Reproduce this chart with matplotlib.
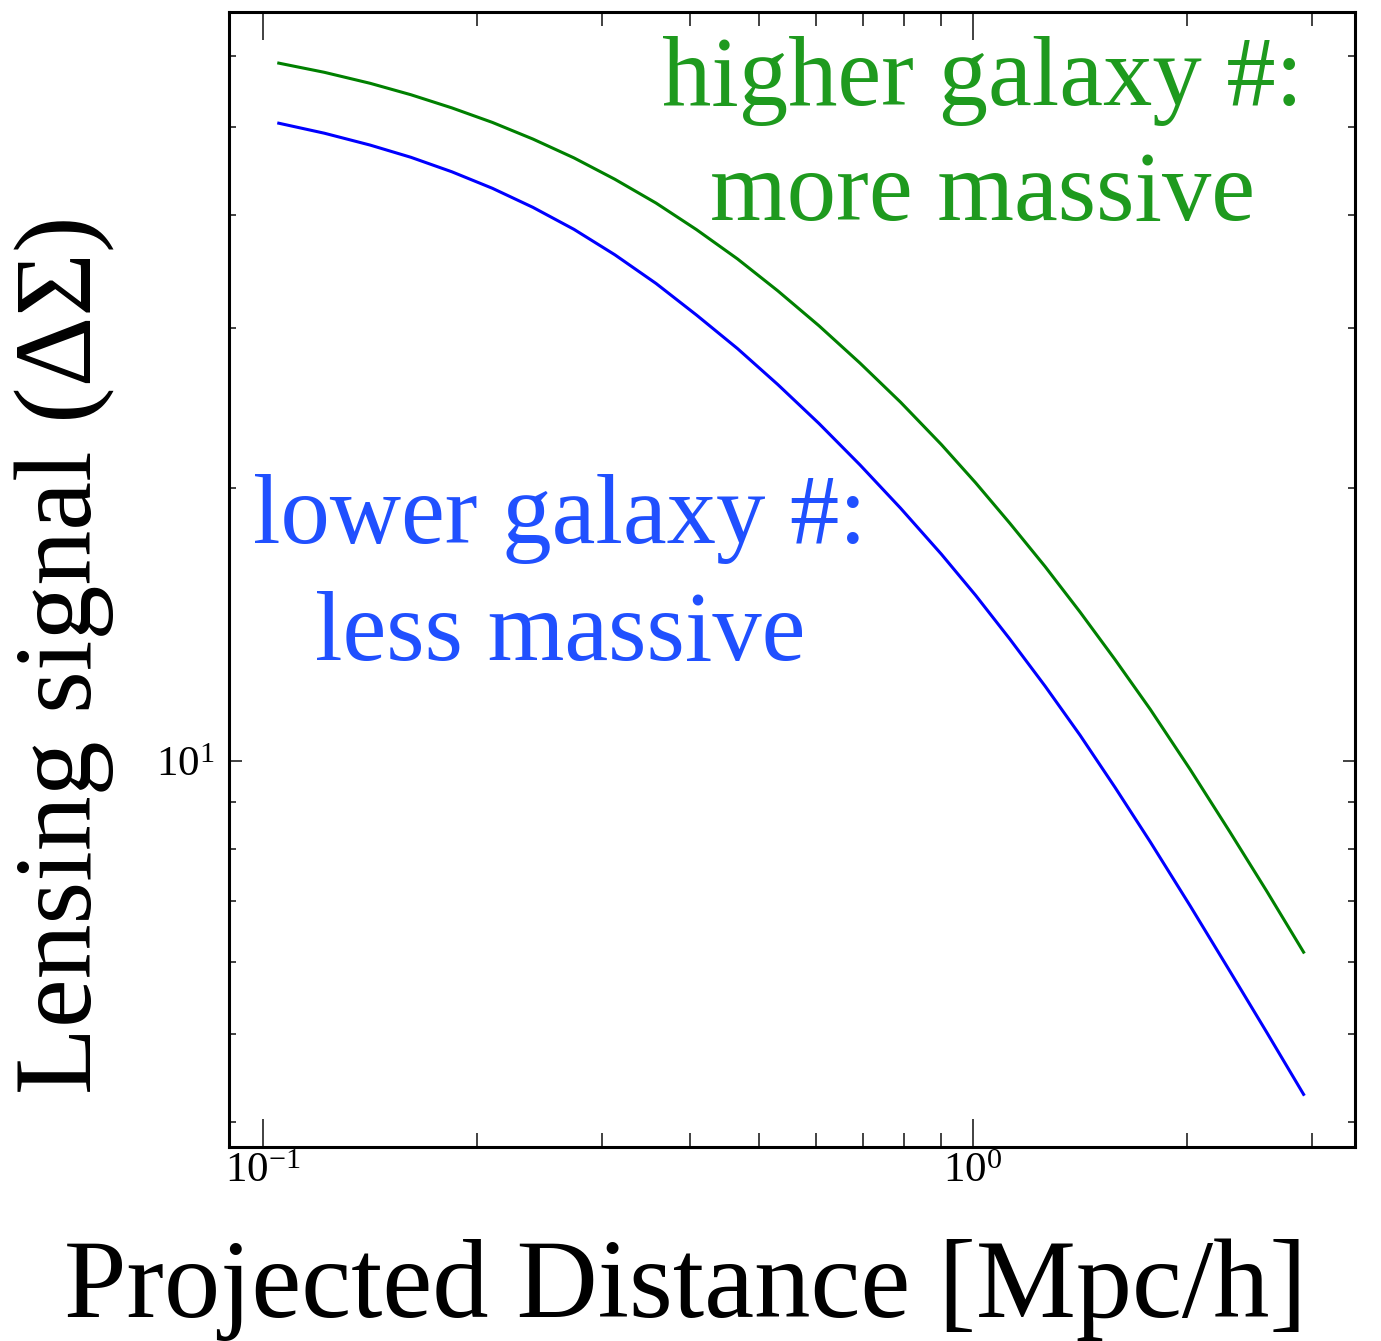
import matplotlib
matplotlib.use("Agg")
import matplotlib.pyplot as plt
from matplotlib.ticker import LogLocator, NullFormatter

plt.rcParams['font.family'] = ['Liberation Serif', 'DejaVu Serif']
plt.rcParams['mathtext.fontset'] = 'stix'

# Projected radius [Mpc/h] and Delta Sigma for the two samples
r_mpc = [0.1053, 0.1221, 0.1416, 0.1616, 0.1845, 0.2105, 0.240, 0.2742,
         0.313, 0.3577, 0.408, 0.4659, 0.531, 0.6068, 0.693, 0.7905,
         0.902, 1.0081, 1.127, 1.2631, 1.415, 1.5849, 1.776, 2.0212,
         2.30, 2.5908, 2.92]
ds_high = [58.85, 57.49, 55.91, 54.31, 52.53, 50.62, 48.53, 46.26,
           43.82, 41.25, 38.55, 35.79, 33.00, 30.20, 27.47, 24.87,
           22.34, 20.27, 18.28, 16.38, 14.59, 12.93, 11.40, 9.786,
           8.345, 7.183, 6.151]
ds_low = [50.52, 49.25, 47.79, 46.33, 44.66, 42.82, 40.80, 38.58,
          36.17, 33.63, 31.03, 28.50, 26.01, 23.56, 21.21, 19.00,
          16.91, 15.23, 13.62, 12.09, 10.67, 9.345, 8.141, 6.920,
          5.858, 5.018, 4.286]

fig = plt.figure(figsize=(13.81, 13.41), dpi=100)
ax = fig.add_axes([0.1658, 0.1447, 0.8154, 0.8463])

ax.plot(r_mpc, ds_high, color=(0, 0.5, 0), linewidth=2.2)
ax.plot(r_mpc, ds_low, color=(0, 0, 1), linewidth=2.2)

ax.set_xscale('log')
ax.set_yscale('log')
ax.set_xlim(0.0896, 3.45)
ax.set_ylim(3.75, 67)

ax.yaxis.set_major_locator(LogLocator(base=10))
ax.yaxis.set_minor_locator(LogLocator(base=10, subs=range(2, 10)))
ax.yaxis.set_minor_formatter(NullFormatter())
ax.xaxis.set_minor_formatter(NullFormatter())

ax.tick_params(which='both', direction='in', top=True, right=True,
               labelsize=31, color='#333333', width=1.3)
ax.tick_params(axis='x', which='major', length=20, pad=4)
ax.tick_params(axis='x', which='minor', length=10)
ax.tick_params(axis='y', which='major', length=9, pad=10)
ax.tick_params(axis='y', which='minor', length=5)
for sp in ax.spines.values():
    sp.set_linewidth(2.2)

# annotations
ax.text(0.6696, 0.918, 'higher galaxy #:', transform=ax.transAxes,
        ha='center', va='baseline', fontsize=71, color='#1e9a1e')
ax.text(0.6696, 0.8167, 'more massive', transform=ax.transAxes,
        ha='center', va='baseline', fontsize=71, color='#1e9a1e')
ax.text(0.294, 0.532, 'lower galaxy #:', transform=ax.transAxes,
        ha='center', va='baseline', fontsize=71, color='#2050ff')
ax.text(0.294, 0.429, 'less massive', transform=ax.transAxes,
        ha='center', va='baseline', fontsize=71, color='#2050ff')

fig.text(685 / 1381, 1 - 1317 / 1341, 'Projected Distance [Mpc/h]',
         ha='center', va='baseline', fontsize=81)
fig.text(65 / 1381, 1 - 655 / 1341, 'Lensing signal (ΔΣ)',
         ha='center', va='center', rotation=90, fontsize=79)

fig.savefig('out.png', dpi=100)
